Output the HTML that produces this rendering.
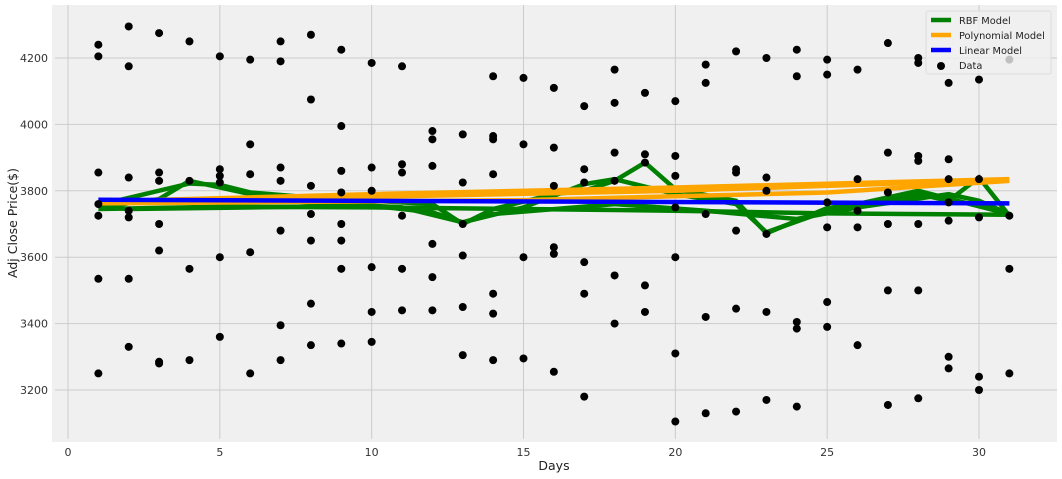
<!DOCTYPE html>
<html><head><meta charset="utf-8"><style>
html,body{margin:0;padding:0;background:#fff;}
svg{display:block;font-family:"DejaVu Sans","Liberation Sans",sans-serif;}
</style></head><body>
<svg id="chart" width="1062" height="479" xmlns="http://www.w3.org/2000/svg"></svg>
<script>
const xTicks=[0,5,10,15,20,25,30];
const yTicks=[3200,3400,3600,3800,4000,4200];
const dataPoints={
1:[4240,4205,3855,3760,3725,3535,3250],
2:[4295,4175,3840,3740,3720,3535,3330],
3:[4275,3855,3830,3700,3620,3285,3280],
4:[4250,3830,3565,3290],
5:[4205,3865,3845,3825,3600,3360],
6:[4195,3940,3850,3615,3250],
7:[4250,4190,3870,3830,3680,3395,3290],
8:[4270,4075,3815,3730,3650,3460,3335],
9:[4225,3995,3860,3795,3700,3650,3565,3340],
10:[4185,3870,3800,3570,3435,3345],
11:[4175,3880,3855,3725,3565,3440],
12:[3980,3955,3875,3640,3540,3440],
13:[3970,3825,3700,3605,3450,3305],
14:[4145,3965,3955,3850,3490,3430,3290],
15:[4140,3940,3600,3295],
16:[4110,3930,3815,3630,3610,3255],
17:[4055,3865,3825,3585,3490,3180],
18:[4165,4065,3915,3830,3545,3400],
19:[4095,3910,3885,3515,3435],
20:[4070,3905,3845,3750,3600,3310,3105],
21:[4180,4125,3730,3420,3130],
22:[4220,3865,3855,3680,3445,3135],
23:[4200,3840,3800,3670,3435,3170],
24:[4225,4145,3405,3385,3150],
25:[4195,4150,3765,3690,3465,3390],
26:[4165,3835,3740,3690,3335],
27:[4245,3915,3795,3700,3500,3155],
28:[4200,4185,3905,3890,3700,3500,3175],
29:[4125,3895,3835,3765,3710,3300,3265],
30:[4135,3835,3720,3240,3200],
31:[4195,3725,3565,3250]};
const rbfStrand1=[[1,3745],[5,3752],[10,3750],[15,3745],[20,3740],[25,3732],[31,3728]];
const rbfStrand2=[[1,3757],[4,3822],[5,3818],[6,3795],[8,3780],[10,3770],[12,3760],[13,3700],[14,3745],[16,3790],[17,3800],[18,3830],[19,3885],[20,3805],[22,3770],[23,3672],[24,3710],[25,3748],[27,3770],[28,3790],[29,3770],[30,3840],[31,3725]];
const rbfStrand3=[[1,3750],[3,3775],[4,3830],[5,3810],[7,3770],[9,3760],[11,3750],[13,3705],[15,3750],[17,3820],[18,3835],[20,3790],[22,3760],[23,3675],[25,3740],[28,3800],[31,3730]];
const rbfStrand4=[[1,3755],[2,3745],[10,3755],[12,3735],[13,3705],[14,3730],[18,3760],[21,3740],[24,3715],[26,3750],[29,3790],[30,3770],[31,3730]];
const polyStrand1=[[1,3768],[10,3790],[20,3810],[31,3835]];
const polyStrand2=[[1,3762],[15,3772],[25,3795],[31,3830]];
const polyStrand3=[[1,3765],[10,3782],[20,3800],[31,3833]];
const linearLine=[[1,3773],[31,3762]];

const NS="http://www.w3.org/2000/svg";
const svg=document.getElementById('chart');
const L=52,R=1057,T=5,B=442;
const xs=d=>68+d*(979-68)/30;
const ys=v=>58+(4200-v)*0.332;
function mk(tag,attrs,parent){const e=document.createElementNS(NS,tag);for(const k in attrs)e.setAttribute(k,attrs[k]);(parent||svg).appendChild(e);return e;}
const bg=mk('rect',{x:L,y:T,width:R-L,height:B-T,fill:'#f0f0f0'});


const grid=mk('g',{stroke:'#cbcbcb','stroke-width':1});


xTicks.forEach(t=>{mk('line',{x1:xs(t),x2:xs(t),y1:T,y2:B-3},grid);
 const tx=mk('text',{x:xs(t),y:456,'font-size':11,fill:'#333','text-anchor':'middle'});tx.textContent=t;
 
 });
yTicks.forEach(t=>{mk('line',{x1:L+3,x2:R,y1:ys(t),y2:ys(t)},grid);
 const tx=mk('text',{x:48,y:ys(t)+4,'font-size':11,fill:'#333','text-anchor':'end'});tx.textContent=t;
 
 });
function line(pts,color,name){const p=mk('polyline',{points:pts.map(q=>xs(q[0])+','+ys(q[1])).join(' '),fill:'none',stroke:color,'stroke-width':4.5,'stroke-linejoin':'miter'});
 
 }
[rbfStrand1,rbfStrand2,rbfStrand3,rbfStrand4].forEach((s,i)=>line(s,'#008000','rbf-line-'+(i+1)));
[polyStrand1,polyStrand2,polyStrand3].forEach((s,i)=>line(s,'#ffa500','poly-line-'+(i+1)));
line(linearLine,'#0000ff','linear-line');
const dg=mk('g',{fill:'#000'});


for(const d in dataPoints){dataPoints[d].forEach(v=>{const c=mk('circle',{cx:xs(+d),cy:ys(v),r:4},dg);
 
 });}
const xl=mk('text',{x:554,y:470,'font-size':12.5,fill:'#222','text-anchor':'middle'});xl.textContent='Days';


const yl=mk('text',{x:17,y:223,'font-size':12.5,fill:'#222','text-anchor':'middle',transform:'rotate(-90 17 223)'});yl.textContent='Adj Close Price($)';


const lg=mk('g',{});


mk('rect',{x:926,y:11,width:125,height:63,fill:'#f0f0f0',stroke:'#dddddd','stroke-width':1,rx:2,'fill-opacity':0.8},lg);
const entries=[['RBF Model','#008000'],['Polynomial Model','#ffa500'],['Linear Model','#0000ff'],['Data',null]];
entries.forEach((e,i)=>{const y=20+i*15;
 if(e[1])mk('line',{x1:931,x2:951,y1:y,y2:y,stroke:e[1],'stroke-width':4.5},lg);
 else mk('circle',{cx:941,cy:y+1,r:4,fill:'#000'},lg);
 const t=mk('text',{x:959,y:y+4,'font-size':9.8,fill:'#222'},lg);t.textContent=e[0];
 
 });
</script>
</body></html>
